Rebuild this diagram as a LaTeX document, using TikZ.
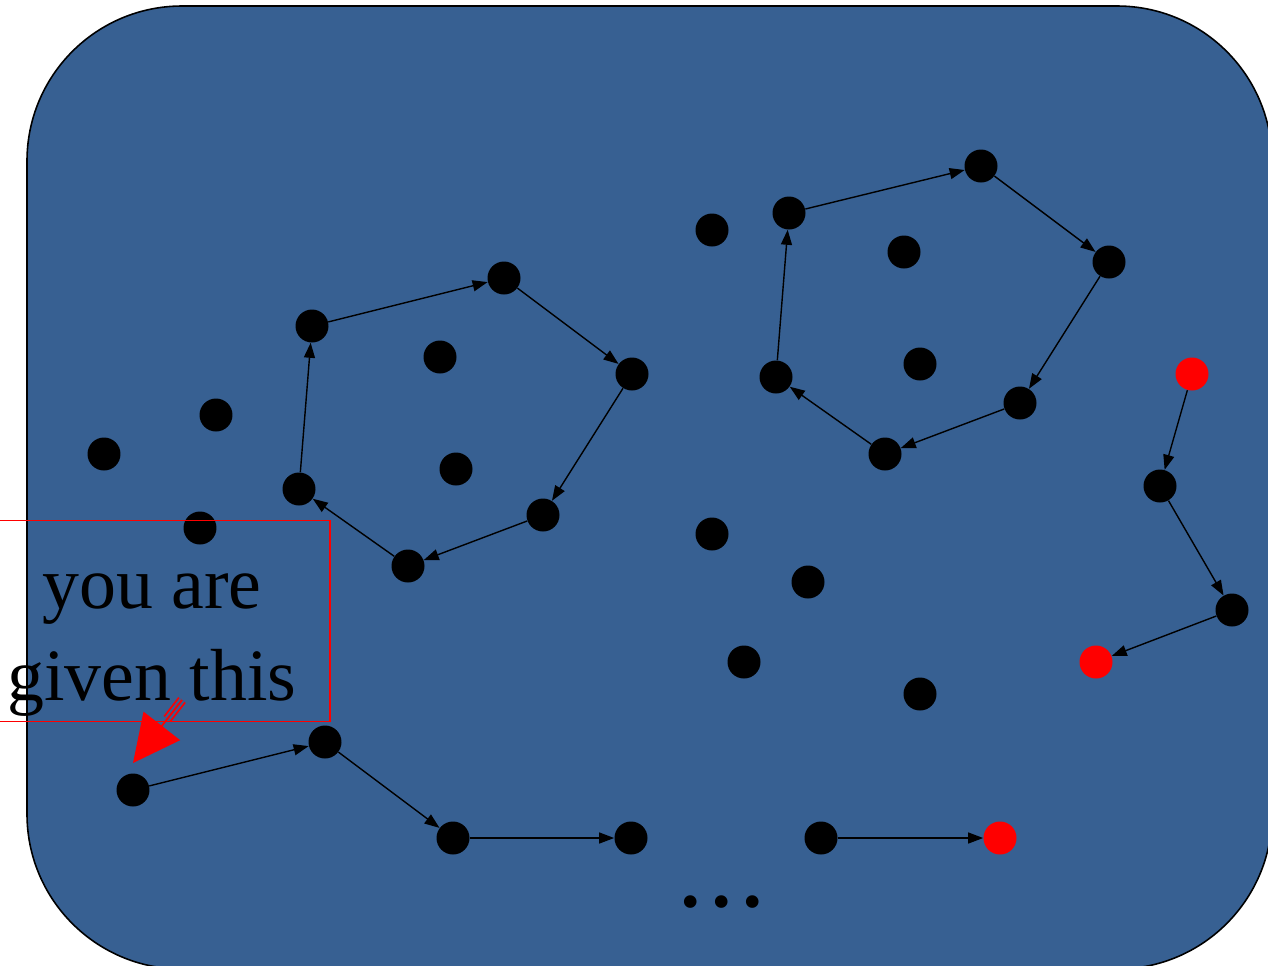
\documentclass[tikz,border=0pt]{standalone}
\usepackage{fontspec}
\setmainfont{Liberation Serif}
\usepackage{tikz}
\usetikzlibrary{arrows.meta,calc}
\definecolor{panelBlue}{HTML}{376092}
\definecolor{hintRed}{HTML}{FF0000}

\begin{document}
\begin{tikzpicture}[
  x={(0.02cm,0)}, y={(0,-0.02cm)},
  panel/.style={draw=black, line width=0.9pt, fill=panelBlue, rounded corners=3.1cm},
  dot/.style={circle, fill=black, inner sep=0pt, minimum size=0.66cm},
  reddot/.style={dot, fill=hintRed},
  link/.style={-{Triangle[length=0.3cm,width=0.22cm]}, line width=0.8pt, black},
  hintbox/.style={draw=hintRed, line width=0.8pt, align=center, inner sep=0pt,
    minimum width=7.12cm, minimum height=4.02cm, font=\fontsize{42}{52}\selectfont},
  pointer/.style={-{Triangle[length=0.94cm,width=0.92cm]}, hintRed, line width=1pt},
  feather/.style={hintRed, line width=1pt, double=panelBlue, double distance=0.12cm}
]
  \useasboundingbox (0,0) rectangle (1268,965);
  \draw[panel] (27,6) rectangle (1272,969);

  % left cycle
  \node[dot] (p1) at (312,326) {};
  \node[dot] (p2) at (504,278) {};
  \node[dot] (p3) at (632,374) {};
  \node[dot] (p4) at (543,515) {};
  \node[dot] (p5) at (408,566) {};
  \node[dot] (p6) at (299,489) {};
  \node[dot] (pa) at (440,357) {};
  \node[dot] (pb) at (456,469) {};

  % loose points on the left
  \node[dot] (l1) at (104,454) {};
  \node[dot] (l2) at (216,415) {};
  \node[dot] (l3) at (200,528) {};

  % right cycle
  \node[dot] (q1) at (789,213) {};
  \node[dot] (q2) at (981,166) {};
  \node[dot] (q3) at (1109,262) {};
  \node[dot] (q4) at (1020,403) {};
  \node[dot] (q5) at (885,454) {};
  \node[dot] (q6) at (776,377) {};
  \node[dot] (qa) at (904,252) {};
  \node[dot] (qb) at (920,364) {};

  % loose points in the middle
  \node[dot] (m1) at (712,230) {};
  \node[dot] (m2) at (712,534) {};
  \node[dot] (m3) at (808,582) {};
  \node[dot] (m4) at (744,662) {};
  \node[dot] (m5) at (920,694) {};

  % chain on the right
  \node[reddot] (r1) at (1192,374) {};
  \node[dot] (r2) at (1160,486) {};
  \node[dot] (r3) at (1232,610) {};
  \node[reddot] (r4) at (1096,662) {};

  % chain at the bottom
  \node[dot] (b1) at (133,790) {};
  \node[dot] (b2) at (325,742) {};
  \node[dot] (b3) at (453,838) {};
  \node[dot] (b4) at (631,838) {};
  \node[dot] (b5) at (821,838) {};
  \node[reddot] (b6) at (1000,838) {};

  \node (more) at (722,908) {\fontsize{30}{30}\selectfont\textbullet\hspace{0.25cm}\textbullet\hspace{0.25cm}\textbullet};

  \foreach \a/\b in {p1/p2,p2/p3,p3/p4,p4/p5,p5/p6,p6/p1,
                     q1/q2,q2/q3,q3/q4,q4/q5,q5/q6,q6/q1,
                     r1/r2,r2/r3,r3/r4,
                     b1/b2,b2/b3,b3/b4,b5/b6}
    \draw[link] (\a) -- (\b);

  % the hint
  \node[hintbox] (hint) at (152,621) {\rule{0pt}{1.66cm}you are\\given this};
  \coordinate (tail) at (182,700);
  \coordinate (tip) at (133,763);
  \draw[feather] (tail) -- ($(tail)!0.3!(tip)$);
  \draw[pointer] (tail) -- (tip);
\end{tikzpicture}
\end{document}
